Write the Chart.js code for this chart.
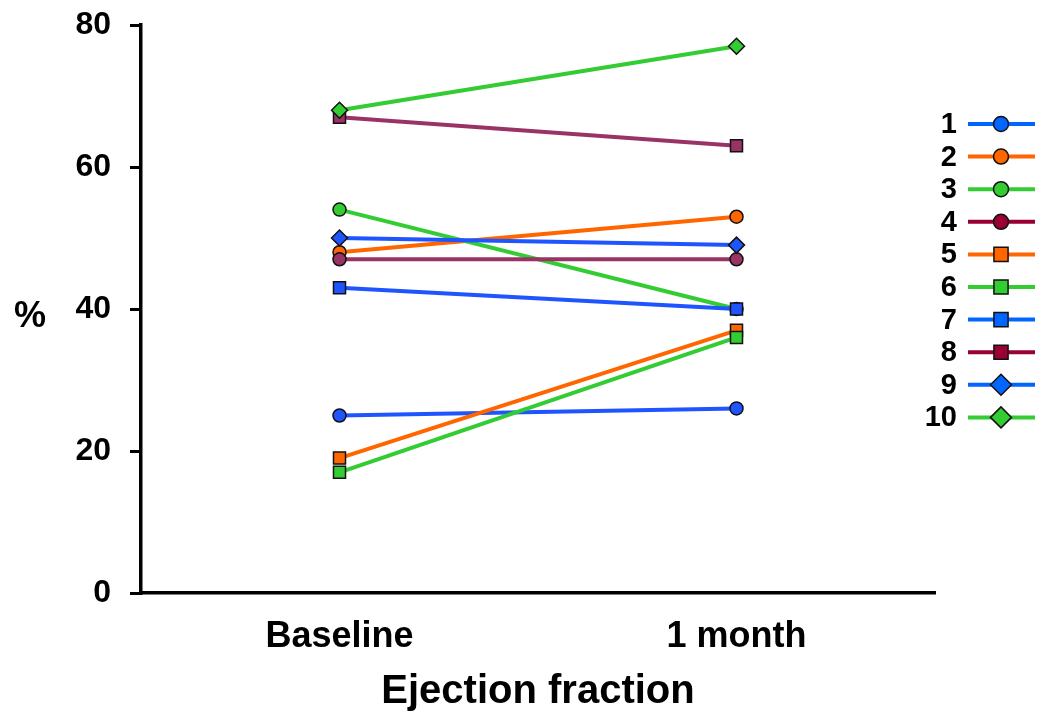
<!DOCTYPE html>
<html>
<head>
<meta charset="utf-8">
<script src="https://cdn.jsdelivr.net/npm/chart.js@4.4.0/dist/chart.umd.min.js"></script>
<style>
  html, body { margin: 0; padding: 0; background: #fff; }
  #wrap { width: 1039px; height: 720px; }
</style>
</head>
<body>
<div id="wrap"><canvas id="chart" width="1039" height="720"></canvas></div>
<script>
// data
const timepoints = ["Baseline", "1 month"];
const seriesNames = ["1", "2", "3", "4", "5", "6", "7", "8", "9", "10"];
const baseline = [25, 48, 54, 47, 19, 17, 43, 67, 50, 68];
const oneMonth = [26, 53, 40, 47, 37, 36, 40, 63, 49, 77];
const yTicks = [0, 20, 40, 60, 80];

// look
const blue = "#1f55ff";
const orange = "#ff6600";
const green = "#33cc33";
const purple = "#993366";
const lineColors = [blue, orange, green, purple, orange, green, blue, purple, blue, green];
const legendColors = ["#0066ff", orange, green, "#990033", orange, green, "#0066ff", "#990033", "#0066ff", green];
const markers = ["circle", "circle", "circle", "circle", "rect", "rect", "rect", "rect", "rectRot", "rectRot"];
const markerRadius = { circle: 6.5, rect: 8.5, rectRot: 8 };
const legendRadius = { circle: 7.5, rect: 10, rectRot: 10.5 };

const datasets = seriesNames.map((name, i) => ({
  label: name,
  data: [baseline[i], oneMonth[i]],
  borderColor: lineColors[i],
  backgroundColor: lineColors[i],
  borderWidth: 4,
  pointStyle: markers[i],
  pointRadius: markerRadius[markers[i]],
  pointBackgroundColor: lineColors[i],
  pointBorderColor: "#111",
  pointBorderWidth: 1.5,
  order: seriesNames.length - i, // later series on top
  tension: 0
}));

function drawMarker(ctx, style, r, x, y) {
  if (style === "circle") {
    ctx.arc(x, y, r, 0, Math.PI * 2);
  } else if (style === "rect") {
    const s = r * Math.SQRT1_2;
    ctx.rect(x - s, y - s, 2 * s, 2 * s);
  } else {
    ctx.moveTo(x - r, y);
    ctx.lineTo(x, y - r);
    ctx.lineTo(x + r, y);
    ctx.lineTo(x, y + r);
    ctx.closePath();
  }
}

// legend with line + marker, and the horizontal "%" label
const extras = {
  id: "extras",
  afterDraw(chart) {
    const ctx = chart.ctx;
    ctx.save();
    ctx.fillStyle = "#000";
    ctx.font = "bold 36px 'Liberation Sans', Arial, sans-serif";
    ctx.textAlign = "center";
    ctx.textBaseline = "middle";
    ctx.fillText("%", 30, 317);

    ctx.font = "bold 29px 'Liberation Sans', Arial, sans-serif";
    const rowTop = 124, rowGap = 32.6;
    seriesNames.forEach((name, i) => {
      const y = rowTop + i * rowGap;
      ctx.textAlign = "right";
      ctx.fillStyle = "#000";
      ctx.fillText(name, 957, y + 1);
      ctx.strokeStyle = legendColors[i];
      ctx.lineWidth = 4;
      ctx.beginPath();
      ctx.moveTo(968, y);
      ctx.lineTo(1035, y);
      ctx.stroke();
      ctx.fillStyle = legendColors[i];
      ctx.strokeStyle = "#111";
      ctx.lineWidth = 1.5;
      ctx.beginPath();
      drawMarker(ctx, markers[i], legendRadius[markers[i]], 1001, y);
      ctx.fill();
      ctx.stroke();
    });
    ctx.restore();
  }
};

new Chart(document.getElementById("chart"), {
  type: "line",
  data: { labels: timepoints, datasets: datasets },
  plugins: [extras],
  options: {
    responsive: false,
    animation: false,
    layout: { padding: { top: 25, right: 104, bottom: 0, left: 0 } },
    plugins: {
      legend: { display: false },
      tooltip: { enabled: false }
    },
    scales: {
      x: {
        type: "category",
        offset: true,
        afterFit(scale) { scale.height = 127; },
        grid: { display: false, drawTicks: false },
        border: { display: true, color: "#000", width: 3.5 },
        ticks: {
          color: "#000",
          padding: 22,
          font: { family: "'Liberation Sans', Arial, sans-serif", size: 36, weight: "bold" }
        },
        title: {
          display: true,
          text: "Ejection fraction",
          color: "#000",
          padding: { top: 10, bottom: 4 },
          font: { family: "'Liberation Sans', Arial, sans-serif", size: 40, weight: "bold" }
        }
      },
      y: {
        min: 0,
        max: 80,
        afterFit(scale) {
          scale.width = 141;
          scale.paddingTop = 0;
          scale.paddingBottom = 0;
        },
        afterBuildTicks(scale) { scale.ticks = yTicks.map(v => ({ value: v })); },
        grid: {
          display: true,
          drawOnChartArea: false,
          drawTicks: true,
          tickLength: 11,
          color: "#000",
          lineWidth: 3
        },
        border: { display: true, color: "#000", width: 3.5 },
        ticks: {
          color: "#000",
          padding: 19,
          font: { family: "'Liberation Sans', Arial, sans-serif", size: 32, weight: "bold" }
        }
      }
    }
  }
});
</script>
</body>
</html>
